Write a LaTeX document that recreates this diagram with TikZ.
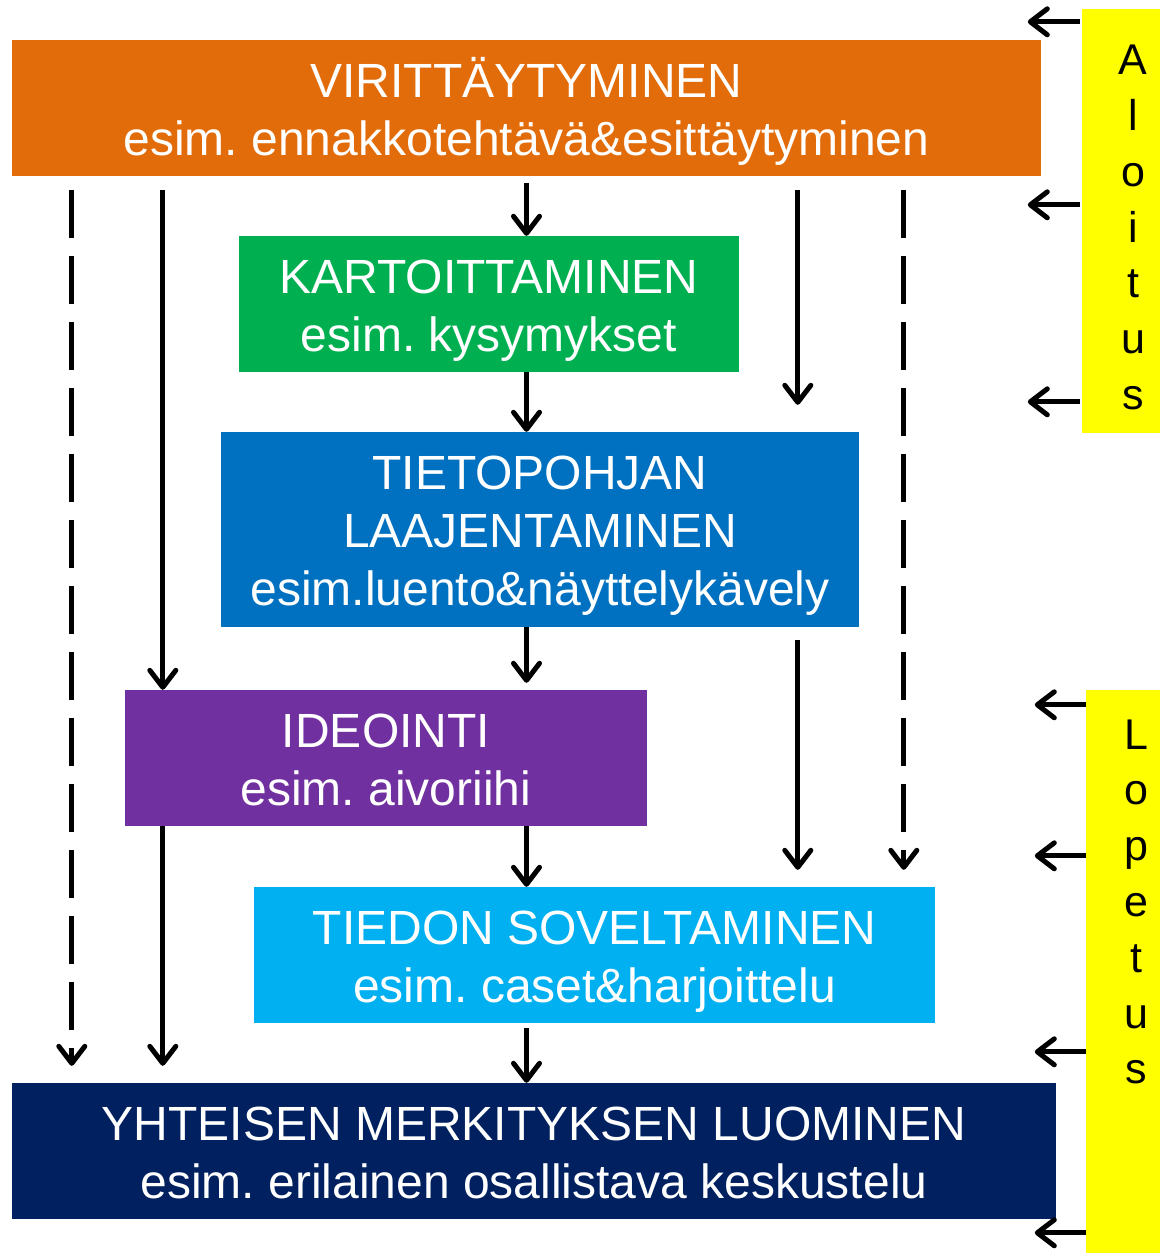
\documentclass[tikz,border=0pt]{standalone}
\usepackage{fontspec}
\setmainfont{Liberation Sans}
\usetikzlibrary{arrows.meta,calc}

\definecolor{vOrange}{HTML}{E36C0A}
\definecolor{kGreen}{HTML}{00B050}
\definecolor{tBlue}{HTML}{0070C0}
\definecolor{iPurple}{HTML}{7030A0}
\definecolor{sCyan}{HTML}{00B0F0}
\definecolor{yNavy}{HTML}{002060}
\definecolor{barYellow}{HTML}{FFFF00}

% fixed first-line height and last-line depth, so every box sets its lines alike
\newcommand{\phasetext}[1]{\rule{0pt}{47pt}#1\rule[-11pt]{0pt}{11pt}}

\tikzset{
  box/.style={rectangle, inner sep=0pt, text=white, align=center,
    font=\fontsize{48}{58}\selectfont\frenchspacing},
  bar/.style={rectangle, inner sep=0pt, fill=barYellow},
  vtext/.style={align=center, inner sep=0pt, font=\fontsize{43}{55.8}\selectfont},
  arr/.style={line width=5pt, -{Straight Barb[length=17pt,width=26pt,round]}},
  dsh/.style={arr, dash pattern=on 48pt off 18pt},
}

\begin{document}
\begin{tikzpicture}[x=1pt, y=-1pt]
  \useasboundingbox (0,0) rectangle (1160,1253);

  % The phase boxes
  \node[box, fill=vOrange, minimum width=1029, minimum height=136] (virit) at (526.5,108)
    {\phasetext{VIRITTÄYTYMINEN\\esim. ennakkotehtävä\&esittäytyminen}};
  \node[box, fill=kGreen, minimum width=500, minimum height=136] (kart) at (489,304)
    {\phasetext{KARTOITTAMINEN\\esim. kysymykset}};
  \node[box, fill=tBlue, minimum width=638, minimum height=195] (tieto) at (540,529.5)
    {\phasetext{TIETOPOHJAN\\LAAJENTAMINEN\\esim.luento\&näyttelykävely}};
  \node[box, fill=iPurple, minimum width=522, minimum height=136] (ideo) at (386,758)
    {\phasetext{IDEOINTI\\esim. aivoriihi}};
  \node[box, fill=sCyan, minimum width=681, minimum height=136] (sov) at (594.5,955)
    {\phasetext{TIEDON SOVELTAMINEN\\esim. caset\&harjoittelu}};
  \node[box, fill=yNavy, minimum width=1044, minimum height=136] (yht) at (534,1151)
    {\phasetext{YHTEISEN MERKITYKSEN LUOMINEN\\esim. erilainen osallistava keskustelu}};

  % Yellow side bars
  \node[bar, minimum width=78, minimum height=424] (alo) at (1121,221) {};
  \node[bar, minimum width=74, minimum height=563] (lop) at (1123,971.5) {};
  \node[vtext] (alotxt) at (1133,227.5) {A\\l\\o\\i\\t\\u\\s};
  \node[vtext] (loptxt) at (1136,902) {L\\o\\p\\e\\t\\u\\s};

  % Main chain down the middle
  \draw[arr, shorten <=7pt] (virit.south) -- (virit.south |- kart.north);
  \draw[arr] (virit.south |- kart.south) -- (virit.south |- tieto.north);
  \draw[arr, shorten >=7pt] (virit.south |- tieto.south) -- (virit.south |- ideo.north);
  \draw[arr] (virit.south |- ideo.south) -- (virit.south |- sov.north);
  \draw[arr, shorten <=5pt] (virit.south |- sov.south) -- (virit.south |- yht.north);

  % Shortcuts on the left
  \draw[dsh, shorten <=14pt, shorten >=17pt] ($(virit.south west)+(60,0)$) -- ($(yht.north west)+(60,0)$);
  \draw[arr, shorten <=14pt] ($(virit.south west)+(151,0)$) -- ($(ideo.north west)+(38,0)$);
  \draw[arr, shorten >=17pt] ($(ideo.south west)+(38,0)$) -- ($(yht.north west)+(151,0)$);

  % Shortcuts on the right
  \draw[arr, shorten <=14pt, shorten >=27pt] ($(virit.south west)+(786,0)$) -- ($(tieto.north west)+(577,0)$);
  \draw[arr, shorten <=13pt, shorten >=17pt] ($(tieto.south west)+(577,0)$) -- ($(sov.north west)+(544,0)$);
  \draw[dsh, shorten <=14pt, shorten >=17pt] ($(virit.south west)+(892,0)$) -- ($(sov.north west)+(650,0)$);

  % Arrows out of the side bars
  \foreach \dy in {13,196,393}
    \draw[arr] ($(alo.north west)+(-2,\dy)$) -- ++(-52,0);
  \foreach \dy in {15,166,362,543}
    \draw[arr] ($(lop.north west)+(0,\dy)$) -- ++(-51,0);
\end{tikzpicture}
\end{document}
